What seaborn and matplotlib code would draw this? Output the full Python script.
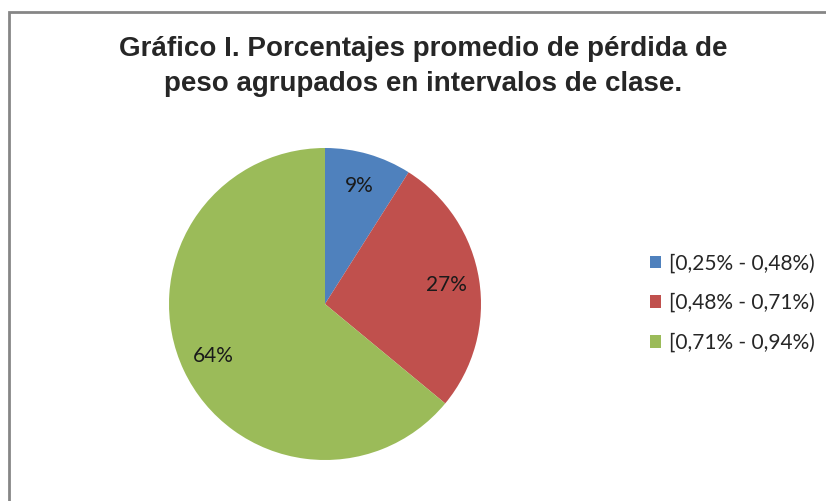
import matplotlib
matplotlib.use('Agg')
import matplotlib.pyplot as plt
from matplotlib.patches import Rectangle
import seaborn as sns

# Data
categories = ['[0,25% - 0,48%)', '[0,48% - 0,71%)', '[0,71% - 0,94%)']
percentages = [9, 27, 64]
colors = ['#4F81BD', '#C0504D', '#9BBB59']
title = 'Gráfico I. Porcentajes promedio de pérdida de\npeso agrupados en intervalos de clase.'

sns.set_style('white')
plt.rcParams['font.family'] = ['Lato', 'DejaVu Sans']

W, H = 826, 501
fig = plt.figure(figsize=(W / 100, H / 100), dpi=100)

# Chart area border (right/bottom edges fall outside the image)
fig.patches.append(Rectangle((8.5 / W, -0.1), 1.2, 1 - 12 / H + 0.1, transform=fig.transFigure,
                             fill=False, edgecolor='#868686', linewidth=2))

fig.text(423 / W, 1 - 66.5 / H, title, ha='center', va='center', fontsize=20, fontweight='bold',
         family='Liberation Sans', linespacing=1.45)

# Pie axes: centre (325, 304) px, radius 156 px
cx, cy, r = 325, 304, 156
ax = fig.add_axes([(cx - r) / W, (H - cy - r) / H, 2 * r / W, 2 * r / H])
wedges, _, autotexts = ax.pie(percentages, colors=colors, startangle=90, counterclock=False,
                              autopct='%1.0f%%', pctdistance=0.79,
                              wedgeprops={'linewidth': 0}, textprops={'fontsize': 15, 'color': '#1a1a1a'})
ax.set_xlim(-1, 1)
ax.set_ylim(-1, 1)
ax.set_aspect('equal')
ax.axis('off')

fig.legend(wedges, categories, loc='center left', bbox_to_anchor=(650 / W, 1 - 303 / H),
           frameon=False, fontsize=15, handlelength=0.55, handleheight=0.55,
           labelspacing=0.95, handletextpad=0.35, borderaxespad=0, borderpad=0)

fig.savefig('out.png', dpi=100)
